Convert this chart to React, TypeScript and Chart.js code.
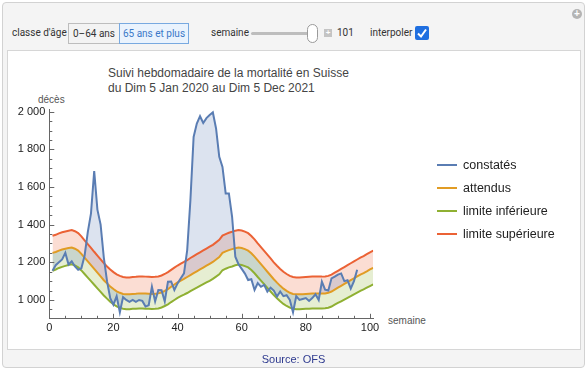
import React, { useEffect, useRef } from "react";
import { Chart, registerables } from "chart.js";

Chart.register(...registerables);

// ---- data (weekly deaths, 65 ans et plus) ----
const firstWeek = 1;
const observed = [
  1155, 1185, 1200, 1215, 1250, 1188, 1205, 1178, 1160, 1168,
  1235, 1360, 1460, 1685, 1480, 1400, 1225, 1100, 1010, 975,
  1020, 935, 1015, 1000, 990, 1000, 990, 1000, 995, 965,
  972, 1070, 992, 1053, 1052, 992, 1097, 1098, 1053, 1088,
  1115, 1141, 1265, 1530, 1866, 1937, 1976, 1940, 1966, 1982,
  1996, 1911, 1760, 1707, 1566, 1566, 1442, 1230, 1190, 1165,
  1140, 1106, 1110, 1053, 1090, 1070, 1080, 1044, 1065, 1050,
  1018, 1045, 1020, 1025, 1000, 935, 1020, 1000, 1005, 1010,
  995, 1010, 1030, 1000, 1097, 1055, 1050, 1115, 1124, 1135,
  1141, 1100, 1105, 1060, 1100, 1160,
];
const expected = [
  1250, 1255, 1262, 1268, 1272, 1276, 1278, 1272, 1262, 1245,
  1225, 1205, 1185, 1165, 1145, 1125, 1105, 1088, 1072, 1058,
  1046, 1038, 1032, 1030, 1030, 1032, 1033, 1035, 1035, 1034,
  1033, 1032, 1033, 1035, 1040, 1048, 1058, 1070, 1082, 1093,
  1103, 1112, 1122, 1132, 1142, 1152, 1162, 1172, 1182, 1192,
  1202, 1215, 1228, 1250, 1258, 1265, 1270, 1275, 1278, 1276,
  1270, 1262, 1248, 1230, 1210, 1190, 1170, 1150, 1130, 1110,
  1092, 1075, 1060, 1048, 1038, 1032, 1030, 1030, 1031, 1032,
  1033, 1034, 1034, 1034, 1034, 1035, 1038, 1045, 1055, 1065,
  1075, 1085, 1095, 1105, 1115, 1125, 1135, 1143, 1152, 1162,
  1171,
];
const lowerLimit = [
  1155, 1162, 1170, 1176, 1181, 1186, 1189, 1183, 1173, 1157,
  1138, 1119, 1100, 1081, 1062, 1043, 1024, 1007, 991, 977,
  966, 958, 953, 951, 951, 953, 954, 955, 955, 954,
  953, 952, 953, 955, 960, 968, 977, 989, 1000, 1011,
  1020, 1028, 1037, 1047, 1056, 1065, 1075, 1084, 1093, 1102,
  1112, 1124, 1136, 1158, 1166, 1173, 1178, 1184, 1188, 1186,
  1180, 1173, 1159, 1142, 1122, 1103, 1084, 1064, 1045, 1026,
  1009, 993, 979, 968, 959, 953, 951, 951, 952, 953,
  954, 955, 955, 955, 955, 956, 959, 965, 975, 984,
  993, 1002, 1011, 1020, 1030, 1039, 1048, 1056, 1065, 1074,
  1083,
];
const upperLimit = [
  1341, 1346, 1354, 1360, 1364, 1368, 1371, 1365, 1355, 1338,
  1317, 1297, 1277, 1256, 1236, 1216, 1196, 1178, 1162, 1148,
  1136, 1128, 1122, 1120, 1120, 1122, 1123, 1125, 1125, 1124,
  1123, 1122, 1123, 1125, 1130, 1138, 1148, 1160, 1172, 1183,
  1193, 1202, 1212, 1223, 1233, 1243, 1253, 1263, 1273, 1283,
  1293, 1306, 1319, 1342, 1350, 1357, 1362, 1368, 1371, 1369,
  1363, 1355, 1340, 1322, 1301, 1281, 1261, 1241, 1221, 1200,
  1182, 1165, 1150, 1138, 1128, 1122, 1120, 1120, 1121, 1122,
  1123, 1124, 1124, 1124, 1124, 1125, 1128, 1135, 1145, 1155,
  1165, 1175, 1185, 1195, 1205, 1215, 1225, 1233, 1243, 1253,
  1262,
];
const seriesLabels = ["constatés", "attendus", "limite inférieure", "limite supérieure"];
const xTickValues = [0, 20, 40, 60, 80, 100];
const xMinorStep = 5;
const yTickValues = [1000, 1200, 1400, 1600, 1800, 2000];
const yMinorStep = 50;
const xRange = [0, 101];
const yRange = [900, 2010];

const BLUE = "#5a7db3";
const ORANGE = "#e19c24";
const GREEN = "#8fb032";
const RED = "#eb6235";
const BLUE_FILL = "rgba(94,129,181,0.22)";
const GREEN_FILL = "rgba(143,176,50,0.22)";
const RED_FILL = "rgba(235,98,53,0.22)";
const colors = [BLUE, ORANGE, GREEN, RED];

const FONT = "'Liberation Sans', Arial, sans-serif";
const UI_FONT = "Roboto, 'Liberation Sans', Arial, sans-serif";

const toPoints = (arr: number[]) => arr.map((v, i) => ({ x: firstWeek + i, y: v }));

const fmtThousands = (v: number) =>
  v >= 1000 ? `${Math.floor(v / 1000)} ${String(v % 1000).padStart(3, "0")}` : String(v);

const innerTicks = {
  id: "innerTicks",
  afterDatasetsDraw(chart: any) {
    const { ctx, scales } = chart;
    const x = scales.x;
    const y = scales.y;
    const left = chart.chartArea.left;
    const bottom = chart.chartArea.bottom;
    ctx.save();
    ctx.strokeStyle = "#666";
    ctx.lineWidth = 1;
    ctx.beginPath();
    for (let v = xRange[0]; v <= xRange[1]; v += xMinorStep) {
      const px = Math.round(x.getPixelForValue(v)) + 0.5;
      const len = xTickValues.includes(v) ? 5 : 3;
      ctx.moveTo(px, bottom);
      ctx.lineTo(px, bottom - len);
    }
    for (let v = 950; v <= 2000; v += yMinorStep) {
      const py = Math.round(y.getPixelForValue(v)) + 0.5;
      const len = yTickValues.includes(v) ? 5 : 3;
      ctx.moveTo(left, py);
      ctx.lineTo(left + len, py);
    }
    ctx.stroke();
    ctx.restore();
  },
};

function ChartCanvas() {
  const ref = useRef<HTMLCanvasElement | null>(null);
  useEffect(() => {
    if (!ref.current) return;
    Chart.defaults.font.family = FONT;
    const ds = (label: string, arr: number[], color: string, fill: any) => ({
      label,
      data: toPoints(arr),
      borderColor: color,
      backgroundColor: color,
      borderWidth: 2,
      pointRadius: 0,
      tension: 0,
      fill,
    });
    const chart = new Chart(ref.current, {
      type: "line",
      data: {
        datasets: [
          ds(seriesLabels[0], observed, BLUE, { target: 1, above: BLUE_FILL, below: BLUE_FILL }),
          ds(seriesLabels[1], expected, ORANGE, false),
          ds(seriesLabels[2], lowerLimit, GREEN, { target: 1, above: GREEN_FILL, below: GREEN_FILL }),
          ds(seriesLabels[3], upperLimit, RED, { target: 1, above: RED_FILL, below: RED_FILL }),
        ],
      },
      options: {
        responsive: false,
        animation: false,
        devicePixelRatio: 1,
        layout: { padding: { left: 0, top: 109.8, right: 213.8, bottom: 31.2 } },
        plugins: {
          legend: { display: false },
          tooltip: { enabled: false },
          title: { display: false },
          filler: { drawTime: "beforeDatasetsDraw" },
        },
        scales: {
          x: {
            type: "linear",
            min: xRange[0],
            max: xRange[1],
            afterFit: (s: any) => {
              s.height = 20;
            },
            afterBuildTicks: (s: any) => {
              s.ticks = xTickValues.map((v) => ({ value: v }));
            },
            ticks: { padding: 3, color: "#222", font: { size: 11, family: FONT }, maxRotation: 0, autoSkip: false },
            grid: { display: false, drawTicks: false },
            border: { display: true, color: "#666", width: 1 },
          },
          y: {
            type: "linear",
            min: yRange[0],
            max: yRange[1],
            afterFit: (s: any) => {
              s.width = 49.3;
            },
            afterBuildTicks: (s: any) => {
              s.ticks = yTickValues.map((v) => ({ value: v }));
            },
            ticks: {
              padding: 4,
              color: "#222",
              font: { size: 11, family: FONT },
              autoSkip: false,
              callback: (v: any) => fmtThousands(Number(v)),
            },
            grid: { display: false, drawTicks: false },
            border: { display: true, color: "#666", width: 1 },
          },
        },
      } as any,
      plugins: [innerTicks],
    });
    return () => chart.destroy();
  }, []);
  return (
    <canvas
      ref={ref}
      width={587}
      height={370}
      style={{ position: "absolute", left: 0, top: 0, width: 587, height: 370 }}
    />
  );
}

const abs = (s: React.CSSProperties): React.CSSProperties => ({ position: "absolute", whiteSpace: "nowrap", ...s });
const uiText: React.CSSProperties = { fontFamily: UI_FONT, fontSize: 10, color: "#333", lineHeight: "14px" };

export default function App() {
  const legendRows = [164.5, 187.8, 211.1, 234.4];
  return (
    <div
      style={{
        position: "fixed",
        left: 0,
        top: 0,
        width: 587,
        height: 370,
        background: "#fff",
        fontFamily: FONT,
        overflow: "hidden",
      }}
    >
      {/* outer panel */}
      <div
        style={abs({
          left: 2,
          top: 2,
          width: 583,
          height: 366,
          boxSizing: "border-box",
          background: "#f4f4f4",
          border: "1px solid #d2d2d2",
          borderRadius: 4,
        })}
      />
      {/* top-right plus icon */}
      <div
        style={abs({
          left: 572,
          top: 9,
          width: 10,
          height: 10,
          borderRadius: 5,
          background: "#b4b4b4",
          color: "#fff",
          fontSize: 10,
          lineHeight: "10px",
          textAlign: "center",
          fontWeight: "bold",
        })}
      >
        +
      </div>
      {/* controls */}
      <div style={abs({ ...uiText, left: 12, top: 26 })}>classe d'âge</div>
      <div
        style={abs({
          ...uiText,
          left: 68,
          top: 23,
          width: 52,
          height: 21,
          boxSizing: "border-box",
          background: "#f3f3f3",
          border: "1px solid #bdbdbd",
          lineHeight: "19px",
          textAlign: "center",
        })}
      >
        0–64 ans
      </div>
      <div
        style={abs({
          ...uiText,
          left: 119,
          top: 23,
          width: 70,
          height: 21,
          boxSizing: "border-box",
          background: "#eaf3fd",
          border: "1px solid #78a9e0",
          color: "#3b78c8",
          lineHeight: "19px",
          textAlign: "center",
        })}
      >
        65 ans et plus
      </div>
      <div style={abs({ ...uiText, left: 211, top: 26 })}>semaine</div>
      <div style={abs({ left: 251, top: 32, width: 60, height: 3, background: "#bdbdbd", borderRadius: 2 })} />
      <div
        style={abs({
          left: 307,
          top: 24,
          width: 11,
          height: 19,
          boxSizing: "border-box",
          background: "#fff",
          border: "1px solid #9a9a9a",
          borderRadius: 6,
        })}
      />
      <div
        style={abs({
          left: 324,
          top: 29,
          width: 8,
          height: 8,
          background: "#c4c4c4",
          color: "#fff",
          fontSize: 8,
          lineHeight: "8px",
          textAlign: "center",
          fontWeight: "bold",
        })}
      >
        +
      </div>
      <div style={abs({ ...uiText, left: 337, top: 26 })}>101</div>
      <div style={abs({ ...uiText, left: 370, top: 26 })}>interpoler</div>
      <div style={abs({ left: 415, top: 26, width: 14, height: 14, background: "#1f6fe0", borderRadius: 2 })}>
        <svg width="14" height="14" viewBox="0 0 14 14">
          <polyline points="3,7.5 6,10.5 11,3.5" fill="none" stroke="#fff" strokeWidth="2" />
        </svg>
      </div>
      {/* inner white panel */}
      <div
        style={abs({
          left: 7,
          top: 50,
          width: 574,
          height: 300,
          boxSizing: "border-box",
          background: "#fff",
          border: "1px solid #d6d6d6",
        })}
      />
      {/* title */}
      <div style={abs({ left: 108, top: 65.5, fontSize: 12, color: "#444", lineHeight: "15px" })}>
        Suivi hebdomadaire de la mortalité en Suisse
        <br />
        du Dim 5 Jan 2020 au Dim 5 Dec 2021
      </div>
      <div style={abs({ left: 38, top: 94, fontSize: 10, color: "#555", lineHeight: "12px" })}>décès</div>
      <div style={abs({ left: 388, top: 315, fontSize: 10, color: "#555", lineHeight: "12px" })}>semaine</div>
      <ChartCanvas />
      {/* legend */}
      {seriesLabels.map((lab, i) => (
        <React.Fragment key={lab}>
          <div style={abs({ left: 437, top: legendRows[i] - 1, width: 20, height: 2, background: colors[i] })} />
          <div
            style={abs({
              left: 463,
              top: legendRows[i] - 8,
              fontSize: 12.5,
              color: "#222",
              lineHeight: "16px",
            })}
          >
            {lab}
          </div>
        </React.Fragment>
      ))}
      <div
        style={abs({
          left: 0,
          width: 587,
          top: 352,
          textAlign: "center",
          fontSize: 11,
          color: "#2e3a8f",
          lineHeight: "14px",
        })}
      >
        Source: OFS
      </div>
    </div>
  );
}
